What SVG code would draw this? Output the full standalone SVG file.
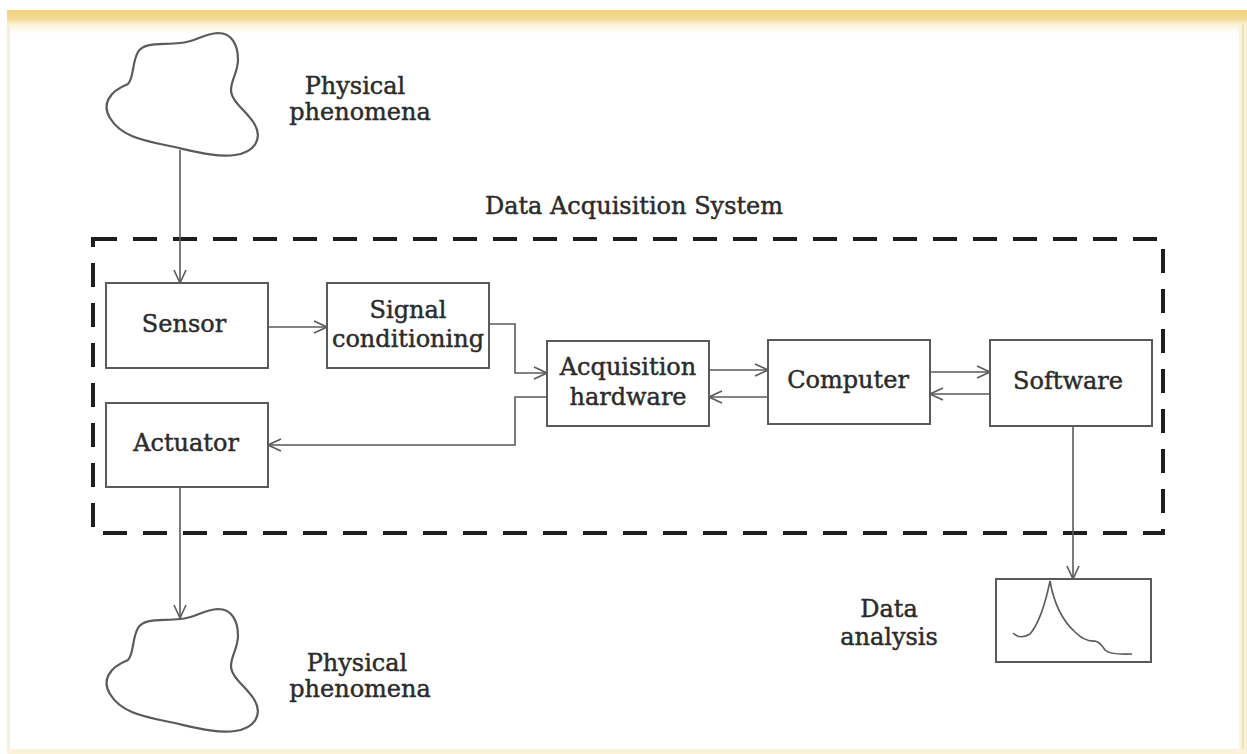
<svg xmlns="http://www.w3.org/2000/svg" width="1247" height="754" viewBox="0 0 1247 754">
<style>
.box{fill:#fff;stroke:#5a5a5a;stroke-width:2}
.conn{fill:none;stroke:#5a5a5a;stroke-width:1.6}
.cloud{fill:#fff;stroke:#5a5a5a;stroke-width:2.2}
.t{font-family:"DejaVu Serif","Liberation Serif",serif;font-size:24px;fill:#2b2b2b;stroke:#2b2b2b;stroke-width:0.45;text-anchor:middle}
</style>
<defs>
<linearGradient id="band" x1="0" y1="0" x2="0" y2="1">
<stop offset="0" stop-color="#efd07c"/>
<stop offset="0.6" stop-color="#f2da94"/>
<stop offset="1" stop-color="#faefc9"/>
</linearGradient>
<linearGradient id="fade" x1="0" y1="0" x2="0" y2="1">
<stop offset="0" stop-color="#fbf2d4"/>
<stop offset="1" stop-color="#ffffff"/>
</linearGradient>
<marker id="arr" viewBox="-15 -8 16 16" refX="0" refY="0" markerWidth="16" markerHeight="16" markerUnits="userSpaceOnUse" orient="auto">
<path d="M-13,-6 L0,0 L-13,6" fill="none" stroke="#5a5a5a" stroke-width="1.6"/>
</marker>
</defs>
<rect x="0" y="0" width="1247" height="754" fill="#ffffff"/>
<g id="frame">
<rect x="7" y="10" width="1240" height="14" fill="url(#band)"/>
<rect x="7" y="24" width="1240" height="10" fill="url(#fade)"/>
<rect x="7" y="24" width="3" height="730" fill="#f8f0d2"/>
<rect x="1239" y="24" width="8" height="730" fill="#faf3da"/>
<rect x="1242" y="24" width="2" height="730" fill="#efe3b6"/>
<rect x="7" y="749" width="1240" height="5" fill="#faf3da"/>
</g>
<g id="system-boundary">
<rect x="93" y="239" width="1070" height="294" fill="none" stroke="#1e1e1e" stroke-width="4" stroke-dasharray="24 16"/>
<text class="t" x="634" y="214">Data Acquisition System</text>
</g>
<g id="connectors">
<path class="conn" d="M180,150 V283" marker-end="url(#arr)"/>
<path class="conn" d="M268,327 H327" marker-end="url(#arr)"/>
<path class="conn" d="M489,324 H515 V373 H547" marker-end="url(#arr)"/>
<path class="conn" d="M709,370 H768" marker-end="url(#arr)"/>
<path class="conn" d="M768,397 H709" marker-end="url(#arr)"/>
<path class="conn" d="M547,397 H515 V445 H268" marker-end="url(#arr)"/>
<path class="conn" d="M930,372 H990" marker-end="url(#arr)"/>
<path class="conn" d="M990,394 H930" marker-end="url(#arr)"/>
<path class="conn" d="M180,487 V618" marker-end="url(#arr)"/>
<path class="conn" d="M1073,426 V579" marker-end="url(#arr)"/>
</g>
<g id="phenomena-in">
<path class="cloud" d="M128,84 C134,78 132,62 138,52 C144,42 160,45 180,43 C196,42 202,34 218,33 C232,33 238,45 238,60 C238,72 231,80 231,90 C231,102 248,112 255,125 C262,138 256,152 235,155 C215,158 190,150 165,145 C140,140 120,135 110,118 C102,105 108,92 128,84 Z"/>
<text class="t" x="355" y="94">Physical</text>
<text class="t" x="360" y="120">phenomena</text>
</g>
<g id="sensor">
<rect class="box" x="106" y="283" width="162" height="85"/>
<text class="t" x="184" y="332">Sensor</text>
</g>
<g id="signal-conditioning">
<rect class="box" x="327" y="283" width="162" height="85"/>
<text class="t" x="408" y="318">Signal</text>
<text class="t" x="408" y="347">conditioning</text>
</g>
<g id="acquisition-hardware">
<rect class="box" x="547" y="341" width="162" height="85"/>
<text class="t" x="628" y="375">Acquisition</text>
<text class="t" x="628" y="405">hardware</text>
</g>
<g id="computer">
<rect class="box" x="768" y="340" width="162" height="84"/>
<text class="t" x="848" y="388">Computer</text>
</g>
<g id="software">
<rect class="box" x="990" y="340" width="162" height="86"/>
<text class="t" x="1068" y="389">Software</text>
</g>
<g id="actuator">
<rect class="box" x="106" y="403" width="162" height="84"/>
<text class="t" x="186" y="451">Actuator</text>
</g>
<g id="phenomena-out">
<path class="cloud" transform="translate(0,576)" d="M128,84 C134,78 132,62 138,52 C144,42 160,45 180,43 C196,42 202,34 218,33 C232,33 238,45 238,60 C238,72 231,80 231,90 C231,102 248,112 255,125 C262,138 256,152 235,155 C215,158 190,150 165,145 C140,140 120,135 110,118 C102,105 108,92 128,84 Z"/>
<text class="t" x="357" y="671">Physical</text>
<text class="t" x="360" y="697">phenomena</text>
</g>
<g id="data-analysis">
<rect class="box" x="996" y="579" width="155" height="83"/>
<path class="conn" stroke-width="2" d="M1013,633 Q1020,640 1030,634 Q1042,620 1050,581 Q1056,615 1075,632 Q1085,642 1095,641 Q1100,642 1105,650 Q1110,655 1132,654"/>
<text class="t" x="889" y="617">Data</text>
<text class="t" x="889" y="645">analysis</text>
</g>
</svg>
